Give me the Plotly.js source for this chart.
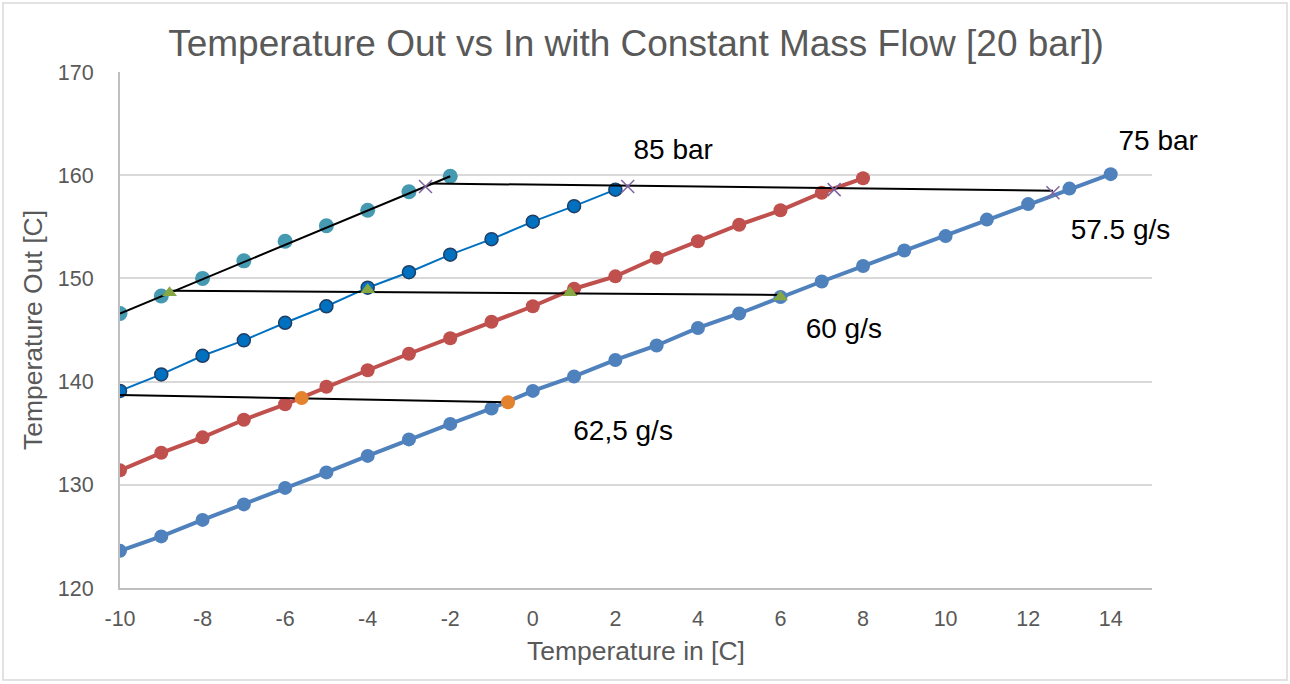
<!DOCTYPE html>
<html>
<head>
<meta charset="utf-8">
<script src="https://cdn.plot.ly/plotly-3.0.1.min.js"></script>
<style>
  html, body { margin: 0; padding: 0; background: #ffffff; }
  #chart { width: 1290px; height: 684px; }
</style>
</head>
<body>
<div id="chart"></div>
<script>
// ---- Data ----
const x75 = [-10,-9,-8,-7,-6,-5,-4,-3,-2,-1,0,1,2,3,4,5,6,7,8,9,10,11,12,13,14];
const y75 = [123.6,125.0,126.6,128.1,129.7,131.2,132.8,134.4,135.9,137.4,139.1,140.5,142.1,143.5,145.2,146.6,148.2,149.7,151.2,152.7,154.1,155.7,157.2,158.7,160.1];

const xRed = [-10,-9,-8,-7,-6,-5,-4,-3,-2,-1,0,1,2,3,4,5,6,7,8];
const yRed = [131.4,133.1,134.6,136.3,137.8,139.5,141.1,142.7,144.2,145.8,147.3,149.0,150.2,152.0,153.6,155.2,156.6,158.3,159.7];

const x85 = [-10,-9,-8,-7,-6,-5,-4,-3,-2,-1,0,1,2];
const y85 = [139.1,140.7,142.5,144.0,145.7,147.3,149.1,150.6,152.3,153.8,155.5,157.0,158.6];

const xTeal = [-10,-9,-8,-7,-6,-5,-4,-3,-2];
const yTeal = [146.6,148.3,150.0,151.7,153.6,155.1,156.6,158.4,159.9];
const xTealLine = [-10,-2];
const yTealLine = [146.6,159.9];

// constant mass flow points and lines
const x575 = [-2.6,2.3,7.3,12.6];
const y575 = [158.9,158.9,158.6,158.3];
const x575Line = [-2.5,12.6];
const y575Line = [159.2,158.5];

const x60 = [-8.8,-4.0,0.9,6.0];
const y60 = [148.6,148.9,148.6,148.2];
const x60Line = [-8.8,6.0];
const y60Line = [148.8,148.4];

const x625 = [-5.6,-0.6];
const y625 = [138.4,138.0];
const x625Line = [-10,-0.6];
const y625Line = [138.7,138.0];

const labelText = ["85 bar","75 bar","57.5 g/s","60 g/s","62,5 g/s"];
const labelX = [2.44,14.19,13.03,6.61,0.98];
const labelY = [162.25,163.1,154.5,144.9,135.0];

const xTicks = [-10,-8,-6,-4,-2,0,2,4,6,8,10,12,14];
const yTicks = [120,130,140,150,160,170];

// ---- Traces ----
const traces = [
  {x:x75, y:y75, mode:'lines+markers', line:{color:'#4F81BD', width:4}, marker:{color:'#4F81BD', size:14}},
  {x:xRed, y:yRed, mode:'lines+markers', line:{color:'#C0504D', width:4}, marker:{color:'#C0504D', size:14}},
  {x:x85, y:y85, mode:'lines+markers', line:{color:'#0070C0', width:2}, marker:{color:'#0070C0', size:13, line:{color:'#1F3F66', width:1.5}}},
  {x:xTeal, y:yTeal, mode:'markers', marker:{color:'#4599B0', size:15}},
  {x:xTealLine, y:yTealLine, mode:'lines', line:{color:'#000000', width:2}},
  {x:x575Line, y:y575Line, mode:'lines', line:{color:'#000000', width:2}},
  {x:x60Line, y:y60Line, mode:'lines', line:{color:'#000000', width:2}},
  {x:x625Line, y:y625Line, mode:'lines', line:{color:'#000000', width:2}},
  {x:x575, y:y575, mode:'markers', marker:{symbol:'x-thin', color:'#8064A2', size:13, line:{color:'#8064A2', width:1.5}}},
  {x:x60, y:y60, mode:'markers', marker:{symbol:'triangle-up', color:'#86A844', size:13}},
  {x:x625, y:y625, mode:'markers', marker:{color:'#E3822F', size:14}},
  {x:labelX, y:labelY, mode:'text', text:labelText, textposition:'middle right',
   textfont:{family:'Liberation Sans, Arial, sans-serif', size:28, color:'#000000'}, cliponaxis:false}
];

const layout = {
  width:1290, height:684,
  margin:{l:120, r:138, t:72, b:96},
  paper_bgcolor:'#ffffff', plot_bgcolor:'#ffffff',
  showlegend:false,
  font:{family:'Liberation Sans, Arial, sans-serif', color:'#595959'},
  title:{text:'Temperature Out vs In with Constant Mass Flow [20 bar])', x:0.5, xref:'paper', xanchor:'center',
         y:0.937, yref:'container', yanchor:'middle',
         font:{family:'Liberation Sans, Arial, sans-serif', size:37, color:'#595959'}},
  xaxis:{range:[-10,15], tickvals:xTicks, ticktext:xTicks.map(String), showgrid:false, zeroline:false,
         showline:true, linecolor:'#BFBFBF', linewidth:2, ticks:'', ticklabelstandoff:10,
         tickfont:{size:21.5, color:'#595959'},
         title:{text:'Temperature in [C]', font:{size:26.5, color:'#595959'}, standoff:12}},
  yaxis:{range:[120,170], tickvals:yTicks, showgrid:true, gridcolor:'#D9D9D9', gridwidth:2, zeroline:false,
         showline:true, linecolor:'#BFBFBF', linewidth:2, ticks:'', ticklabelstandoff:20,
         tickfont:{size:21.5, color:'#595959'},
         title:{text:'Temperature Out [C]', font:{size:26.5, color:'#595959'}, standoff:8}},
  shapes:[
    {type:'rect', xref:'paper', yref:'paper', x0:-0.1134, x1:1.1308, y0:-0.1783, y1:1.1337,
     line:{color:'#D9D9D9', width:1.5}, fillcolor:'rgba(0,0,0,0)', layer:'below'}
  ]
};

Plotly.newPlot('chart', traces, layout, {displayModeBar:false, staticPlot:true});
</script>
</body>
</html>
